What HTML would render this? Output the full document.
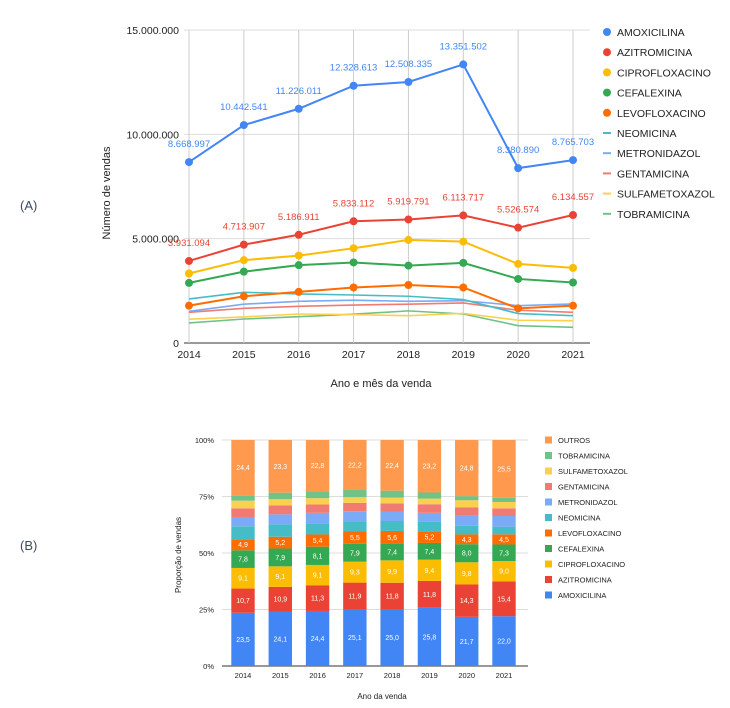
<!DOCTYPE html>
<html><head><meta charset="utf-8"><style>
body{margin:0;background:#fff;width:730px;height:703px;overflow:hidden;font-family:"Liberation Sans",sans-serif}
svg text{font-family:"Liberation Sans",sans-serif}
</style></head><body>
<svg id="s" width="730" height="703" xmlns="http://www.w3.org/2000/svg">
<text x="20" y="210" font-size="13" fill="#3b4a63">(A)</text>
<text x="20" y="550" font-size="13" fill="#3b4a63">(B)</text>
<g id="topchart"></g>
<g id="botchart"></g>
</svg>
<script>
const years=["2014","2015","2016","2017","2018","2019","2020","2021"];
const lineNames=["AMOXICILINA","AZITROMICINA","CIPROFLOXACINO","CEFALEXINA","LEVOFLOXACINO","NEOMICINA","METRONIDAZOL","GENTAMICINA","SULFAMETOXAZOL","TOBRAMICINA"];
const amox=[8668997,10442541,11226011,12328613,12508335,13351502,8380890,8765703];
const azit=[3931094,4713907,5186911,5833112,5919791,6113717,5526574,6134557];
const cipro=[3330000,3970000,4190000,4540000,4940000,4860000,3790000,3600000];
const cefa=[2880000,3420000,3730000,3860000,3710000,3840000,3070000,2900000];
const levo=[1790000,2240000,2450000,2660000,2780000,2660000,1660000,1790000];
const neo=[2110000,2430000,2350000,2300000,2240000,2080000,1410000,1310000];
const metro=[1520000,1860000,2000000,2050000,2000000,2030000,1790000,1870000];
const genta=[1470000,1660000,1760000,1820000,1860000,1920000,1570000,1470000];
const sulfa=[1140000,1250000,1390000,1360000,1310000,1420000,1090000,1070000];
const tobra=[960000,1150000,1260000,1380000,1540000,1390000,830000,750000];
const yTicks=[0,5000000,10000000,15000000];
const yTickLabels=["0","5.000.000","10.000.000","15.000.000"];
const barNames=["AMOXICILINA","AZITROMICINA","CIPROFLOXACINO","CEFALEXINA","LEVOFLOXACINO","NEOMICINA","METRONIDAZOL","GENTAMICINA","SULFAMETOXAZOL","TOBRAMICINA","OUTROS"];
const pAmox=[23.5,24.1,24.4,25.1,25.0,25.8,21.7,22.0];
const pAzit=[10.7,10.9,11.3,11.9,11.8,11.8,14.3,15.4];
const pCipro=[9.1,9.1,9.1,9.3,9.9,9.4,9.8,9.0];
const pCefa=[7.8,7.9,8.1,7.9,7.4,7.4,8.0,7.3];
const pLevo=[4.9,5.2,5.4,5.5,5.6,5.2,4.3,4.5];
const pNeo=[5.7,5.5,5.0,4.6,4.4,4.1,3.8,3.4];
const pMetro=[4.1,4.4,4.6,4.4,4.0,4.0,4.4,4.7];
const pGenta=[3.8,4.0,3.7,3.7,3.8,3.8,3.8,3.4];
const pSulfa=[3.4,2.7,2.8,2.5,2.5,2.5,3.1,2.8];
const pTobra=[2.4,2.9,3.0,3.2,3.1,2.7,1.8,1.9];
const pOutros=[24.4,23.3,22.8,22.2,22.4,23.2,24.8,25.5];
const pTicks=[0,25,50,75,100];
const pTickLabels=["0%","25%","50%","75%","100%"];

const NS="http://www.w3.org/2000/svg";
function mk(p,tag,at,txt){const e=document.createElementNS(NS,tag);for(const k in at)e.setAttribute(k,at[k]);if(txt!=null)e.textContent=txt;p.appendChild(e);return e;}
const colors=["#4285f4","#ea4335","#fbbc04","#34a853","#ff6d01","#46bdc6","#7baaf7","#f07b72","#fcd04f","#71c287","#ff994d"];
const fmt=v=>String(v).replace(/\B(?=(\d{3})+(?!\d))/g,".");

// TOP
const gTop=document.getElementById('topchart');
const X=i=>189+i*(573-189)/(years.length-1);
const Y=v=>343-v*(343-30)/15000000;
yTicks.forEach((t,i)=>{
 const l=mk(gTop,'line',{x1:184,x2:590,y1:Y(t),y2:Y(t),stroke:i==0?'#333':'#ddd','stroke-width':1});
 
 
 const tx=mk(gTop,'text',{x:179,y:Y(t)+4,'font-size':10.5,'text-anchor':'end',fill:'#222'},yTickLabels[i]);
 
 
});
years.forEach((y,i)=>{
 const l=mk(gTop,'line',{x1:X(i),x2:X(i),y1:30,y2:343,stroke:'#ccc','stroke-width':1});
 
 
 const tx=mk(gTop,'text',{x:X(i),y:358,'font-size':10.5,'text-anchor':'middle',fill:'#222'},y);
 
 
});
const series=[amox,azit,cipro,cefa,levo,neo,metro,genta,sulfa,tobra];
for(let s=series.length-1;s>=0;s--){
 const d=series[s];
 const pl=mk(gTop,'polyline',{points:d.map((v,i)=>X(i)+','+Y(v)).join(' '),fill:'none',stroke:colors[s],'stroke-width':s<5?2:1.6});
 
 
 if(s<5)d.forEach((v,i)=>{
  const c=mk(gTop,'circle',{cx:X(i),cy:Y(v),r:4,fill:colors[s]});
  
  
 });
 if(s<2)d.forEach((v,i)=>{
  const t=mk(gTop,'text',{x:X(i),y:Y(v)-15,'font-size':9.5,'text-anchor':'middle',fill:colors[s]},fmt(v));
  
  
 });
}
lineNames.forEach((n,i)=>{
 const y=32+i*20.2;
 if(i<5){const c=mk(gTop,'circle',{cx:607,cy:y,r:4,fill:colors[i]});}
 else{const r=mk(gTop,'rect',{x:603,y:y-1,width:8,height:2,fill:colors[i]});}
 const t=mk(gTop,'text',{x:617,y:y+4,'font-size':10.5,fill:'#222'},n);
 
 
});
let t1=mk(gTop,'text',{x:0,y:0,'font-size':11,'text-anchor':'middle',fill:'#222',transform:'translate(110,193) rotate(-90)'},'Número de vendas');


let t2=mk(gTop,'text',{x:381,y:387,'font-size':11,'text-anchor':'middle',fill:'#222'},'Ano e mês da venda');



// BOTTOM
const gBot=document.getElementById('botchart');
const BX=i=>243+i*(504-243)/(years.length-1);
const BY=p=>666-p*(666-440)/100;
pTicks.forEach((t,i)=>{
 const l=mk(gBot,'line',{x1:222,x2:528,y1:BY(t),y2:BY(t),stroke:i==0?'#333':'#ddd','stroke-width':1});
 
 
 const tx=mk(gBot,'text',{x:214,y:BY(t)+3,'font-size':7.5,'text-anchor':'end',fill:'#222'},pTickLabels[i]);
 
 
});
const pser=[pAmox,pAzit,pCipro,pCefa,pLevo,pNeo,pMetro,pGenta,pSulfa,pTobra,pOutros];
years.forEach((y,i)=>{
 const tot=pser.reduce((a,s)=>a+s[i],0);
 let cum=0;
 pser.forEach((s,k)=>{
  const v=s[i]/tot*100;
  const y0=BY(cum),y1=BY(cum+v);
  const r=mk(gBot,'rect',{x:BX(i)-11.7,y:y1,width:23.4,height:y0-y1,fill:colors[k]});
  
  
  if(k<5||k==10){
   const t=mk(gBot,'text',{x:BX(i),y:(y0+y1)/2+2.5,'font-size':7,'text-anchor':'middle',fill:'#fff'},s[i].toFixed(1).replace('.',','));
   
   
  }
  cum+=v;
 });
 const tx=mk(gBot,'text',{x:BX(i),y:678,'font-size':7.5,'text-anchor':'middle',fill:'#222'},y);
 
 
});
barNames.slice().reverse().forEach((n,j)=>{
 const k=barNames.length-1-j;
 const y=440+j*15.5;
 const r=mk(gBot,'rect',{x:545,y:y-3.5,width:7,height:7,fill:colors[k]});
 
 
 const t=mk(gBot,'text',{x:558,y:y+3,'font-size':7.5,fill:'#222'},n);
 
 
});
let t3=mk(gBot,'text',{x:0,y:0,'font-size':8,'text-anchor':'middle',fill:'#222',transform:'translate(181,555) rotate(-90)'},'Proporção de vendas');


let t4=mk(gBot,'text',{x:382,y:699,'font-size':8,'text-anchor':'middle',fill:'#222'},'Ano da venda');


</script>
</body></html>
